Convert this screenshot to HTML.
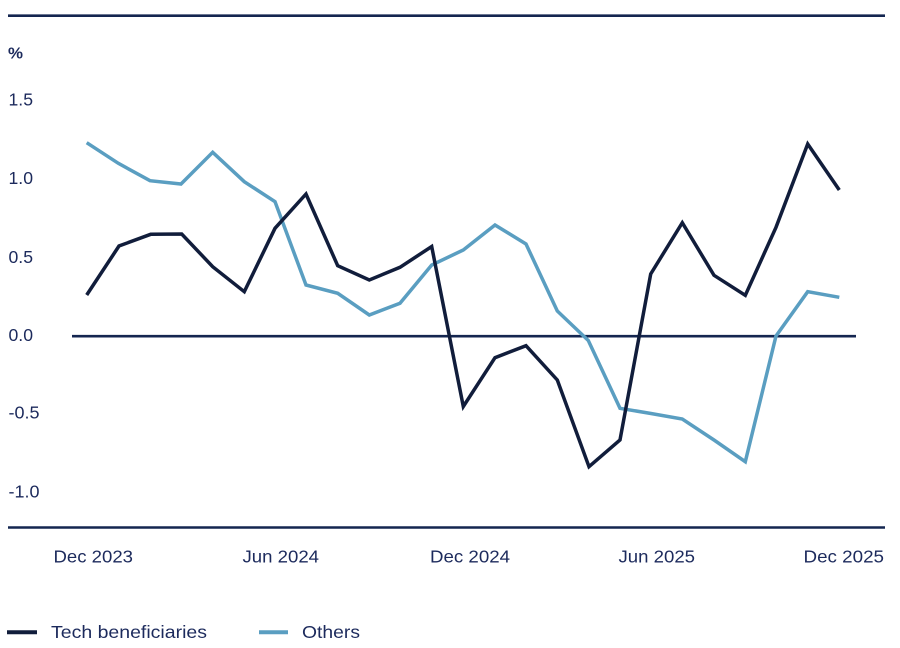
<!DOCTYPE html>
<html>
<head>
<meta charset="utf-8">
<style>
  html, body { margin: 0; padding: 0; background: #ffffff; }
  body { width: 900px; height: 648px; overflow: hidden; }
  svg { display: block; }
  text { font-family: "Liberation Sans", "DejaVu Sans", sans-serif; fill: #1c2a5c; }
</style>
</head>
<body>
<svg width="900" height="648" viewBox="0 0 900 648" xmlns="http://www.w3.org/2000/svg">
  <!-- frame lines -->
  <line x1="8" y1="15.7" x2="885" y2="15.7" stroke="#142650" stroke-width="2.6"/>
  <line x1="8" y1="527.5" x2="885" y2="527.5" stroke="#142650" stroke-width="2.6"/>

  <!-- unit -->
  <text x="8" y="58.5" font-size="16" font-weight="bold" textLength="15" lengthAdjust="spacingAndGlyphs">%</text>

  <!-- y labels -->
  <text x="8.5" y="105.5" font-size="17.5" textLength="24.5" lengthAdjust="spacingAndGlyphs">1.5</text>
  <text x="8.5" y="184" font-size="17.5" textLength="24.5" lengthAdjust="spacingAndGlyphs">1.0</text>
  <text x="8.5" y="263" font-size="17.5" textLength="24.5" lengthAdjust="spacingAndGlyphs">0.5</text>
  <text x="8.5" y="341" font-size="17.5" textLength="24.5" lengthAdjust="spacingAndGlyphs">0.0</text>
  <text x="8.5" y="418.5" font-size="17.5" textLength="31" lengthAdjust="spacingAndGlyphs">-0.5</text>
  <text x="8.5" y="497.5" font-size="17.5" textLength="31" lengthAdjust="spacingAndGlyphs">-1.0</text>

  <!-- zero line -->
  <line x1="72" y1="336.2" x2="856" y2="336.2" stroke="#142650" stroke-width="2.6"/>

  <!-- Others series -->
  <polyline fill="none" stroke="#5a9ec1" stroke-width="3.5" stroke-linejoin="miter" stroke-linecap="butt"
    points="86.7,142.7 118.3,163.3 150,180.7 181,184 212.7,152.3 244.3,181.7 275,201.7 306,285 337.7,293.3 369.3,315 400,303.3 431.7,265 463.3,250 495,225 526,244 557.3,311 588.3,340.5 620,408.3 651,413.5 682.3,419 714,440 745.3,461.7 776,336 807.7,291.7 839.3,297.3"/>

  <!-- Tech beneficiaries series -->
  <polyline fill="none" stroke="#111d3b" stroke-width="3.5" stroke-linejoin="miter" stroke-linecap="butt"
    points="86.7,295 119,246 150.7,234.3 181.7,234 212.7,266.7 244.3,291.7 275,228.3 306,194 337.7,265.7 369.3,280 400,267.3 431.7,246.5 463.3,406.5 495,357.7 526,345.7 557.3,380 589,466.7 620,440 650.7,274 682.3,222.7 714,275.3 745.3,295.3 776,227.3 807.7,144 839.3,190"/>

  <!-- x labels -->
  <text x="53.5" y="562.5" font-size="17.5" textLength="79.5" lengthAdjust="spacingAndGlyphs">Dec 2023</text>
  <text x="242.5" y="562.5" font-size="17.5" textLength="76.5" lengthAdjust="spacingAndGlyphs">Jun 2024</text>
  <text x="430" y="562.5" font-size="17.5" textLength="80" lengthAdjust="spacingAndGlyphs">Dec 2024</text>
  <text x="618.5" y="562.5" font-size="17.5" textLength="76.5" lengthAdjust="spacingAndGlyphs">Jun 2025</text>
  <text x="803.5" y="562.5" font-size="17.5" textLength="80.5" lengthAdjust="spacingAndGlyphs">Dec 2025</text>

  <!-- legend -->
  <line x1="7" y1="632.3" x2="37" y2="632.3" stroke="#111d3b" stroke-width="4"/>
  <text x="51" y="638" font-size="17.5" textLength="156" lengthAdjust="spacingAndGlyphs">Tech beneficiaries</text>
  <line x1="259" y1="632.3" x2="288" y2="632.3" stroke="#5a9ec1" stroke-width="4"/>
  <text x="302" y="638" font-size="17.5" textLength="58" lengthAdjust="spacingAndGlyphs">Others</text>
</svg>
</body>
</html>
